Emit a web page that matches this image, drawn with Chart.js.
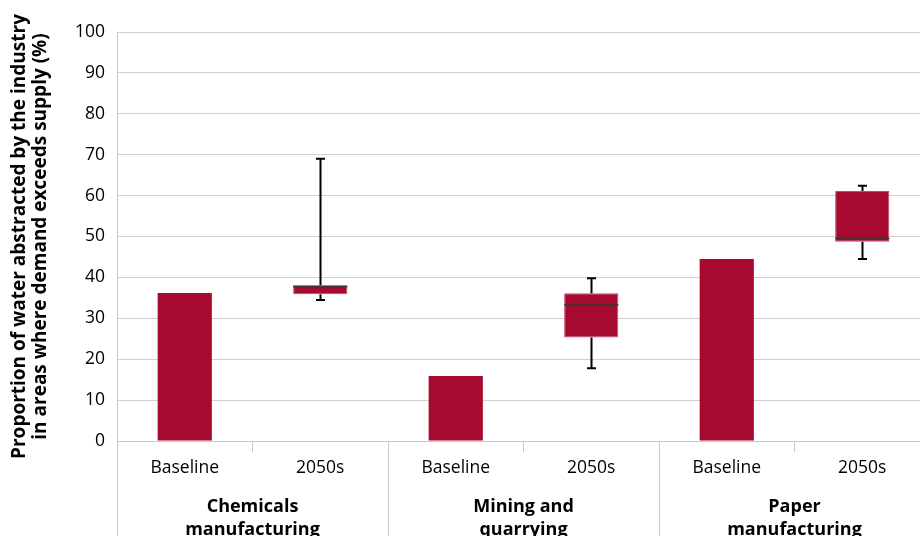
<!DOCTYPE html>
<html>
<head>
<meta charset="utf-8">
<script src="https://cdn.jsdelivr.net/npm/chart.js@4/dist/chart.umd.min.js"></script>
<style>
  html, body { margin: 0; padding: 0; background: #ffffff; overflow: hidden; }
  #wrap { width: 930px; height: 536px; }
</style>
</head>
<body>
<div id="wrap"><canvas id="c"></canvas></div>
<script>
// Scenario labels under each bar and the industry groups beneath them
const categories = ['Baseline', '2050s', 'Baseline', '2050s', 'Baseline', '2050s'];
const industries = [['Chemicals', 'manufacturing'], ['Mining and', 'quarrying'], ['Paper', 'manufacturing']];

// Baseline share (%) for each industry
const baseline = [36.2, 15.9, 44.5];

// 2050s spread across scenarios (%): box edges, median and whisker ends
const q1 = [35.9, 25.3, 48.7];
const q3 = [38.1, 36.1, 61.1];
const median = [37.8, 33.3, 49.5];
const low = [34.5, 17.8, 44.5];
const high = [69.0, 39.8, 62.4];

const FONT = '"Open Sans", "DejaVu Sans", sans-serif';
const RED = '#a60a2e';

// Baseline bars are plain values, 2050s boxes are floating [q1, q3] bars
const barData = [];
const borderColors = [];
const borderWidths = [];
industries.forEach((_, i) => {
  barData.push(baseline[i]);
  borderColors.push(RED);
  borderWidths.push(0);
  barData.push([q1[i], q3[i]]);
  borderColors.push('#c8485f');
  borderWidths.push(1);
});

// Whiskers and median lines for the 2050s boxes
const boxDetails = {
  id: 'boxDetails',
  afterDatasetsDraw(chart) {
    const ctx = chart.ctx;
    const x = chart.scales.x, y = chart.scales.y;
    const meta = chart.getDatasetMeta(0);
    ctx.save();
    industries.forEach((_, i) => {
      const idx = 2 * i + 1;
      const bar = meta.data[idx];
      const cx = Math.round(x.getPixelForValue(idx)) + 0.5;
      const half = bar.width / 2;
      ctx.strokeStyle = '#000000';
      ctx.lineWidth = 2;
      ctx.beginPath();
      ctx.moveTo(cx, y.getPixelForValue(high[i]));
      ctx.lineTo(cx, y.getPixelForValue(q3[i]));
      ctx.moveTo(cx, y.getPixelForValue(q1[i]));
      ctx.lineTo(cx, y.getPixelForValue(low[i]));
      ctx.moveTo(cx - 4.5, y.getPixelForValue(high[i]));
      ctx.lineTo(cx + 4.5, y.getPixelForValue(high[i]));
      ctx.moveTo(cx - 4.5, y.getPixelForValue(low[i]));
      ctx.lineTo(cx + 4.5, y.getPixelForValue(low[i]));
      ctx.stroke();
      ctx.strokeStyle = '#4a2e36';
      ctx.lineWidth = 1.5;
      ctx.beginPath();
      const my = y.getPixelForValue(median[i]);
      ctx.moveTo(bar.x - half, my);
      ctx.lineTo(bar.x + half, my);
      ctx.stroke();
    });
    ctx.restore();
  }
};

// Industry group labels and the long separators between groups
const groupAxis = {
  id: 'groupAxis',
  afterDraw(chart) {
    const ctx = chart.ctx;
    const x = chart.scales.x;
    const bottom = chart.chartArea.bottom;
    ctx.save();
    ctx.strokeStyle = '#c8c8c8';
    ctx.lineWidth = 1;
    for (let k = 0; k <= categories.length; k += 2) {
      const px = Math.round(x.getPixelForValue(k - 0.5)) + 0.5;
      ctx.beginPath();
      ctx.moveTo(px, bottom);
      ctx.lineTo(px, chart.height);
      ctx.stroke();
    }
    ctx.fillStyle = '#000000';
    ctx.font = 'bold 18px ' + FONT;
    ctx.textAlign = 'center';
    ctx.textBaseline = 'alphabetic';
    industries.forEach((lines, i) => {
      const cx = x.getPixelForValue(2 * i + 0.5);
      lines.forEach((t, j) => ctx.fillText(t, cx, bottom + 71 + j * 23));
    });
    ctx.restore();
  }
};

new Chart(document.getElementById('c'), {
  type: 'bar',
  data: {
    labels: categories,
    datasets: [{
      data: barData,
      backgroundColor: RED,
      borderColor: borderColors,
      borderWidth: borderWidths,
      borderSkipped: false,
      categoryPercentage: 1,
      barPercentage: 0.4
    }]
  },
  options: {
    responsive: true,
    maintainAspectRatio: false,
    animation: false,
    layout: { padding: { top: 32, right: 0, bottom: 0, left: 0 } },
    plugins: { legend: { display: false }, tooltip: { enabled: false } },
    scales: {
      x: {
        offset: true,
        grid: { display: true, drawOnChartArea: false, drawTicks: true, tickLength: 11, color: '#c8c8c8', offset: true },
        border: { display: true, color: '#c8c8c8', width: 1 },
        ticks: { font: { family: FONT, size: 17.5 }, color: '#000000', padding: 6, maxRotation: 0 },
        afterFit(scale) { scale.height = 95; }
      },
      y: {
        min: 0,
        max: 100,
        ticks: { stepSize: 10, font: { family: FONT, size: 17.5 }, color: '#000000', padding: 12 },
        grid: { color: '#d0d0d0', lineWidth: 1, drawTicks: false },
        border: { display: true, color: '#c8c8c8', width: 1 },
        title: {
          display: true,
          text: ['Proportion of water abstracted by the industry', 'in areas where demand exceeds supply (%)'],
          font: { family: FONT, size: 19, weight: 'bold', lineHeight: 1.06 },
          color: '#000000',
          padding: { top: 10, bottom: 0 }
        },
        afterFit(scale) { scale.width = 117; }
      }
    }
  },
  plugins: [boxDetails, groupAxis]
});
</script>
</body>
</html>
